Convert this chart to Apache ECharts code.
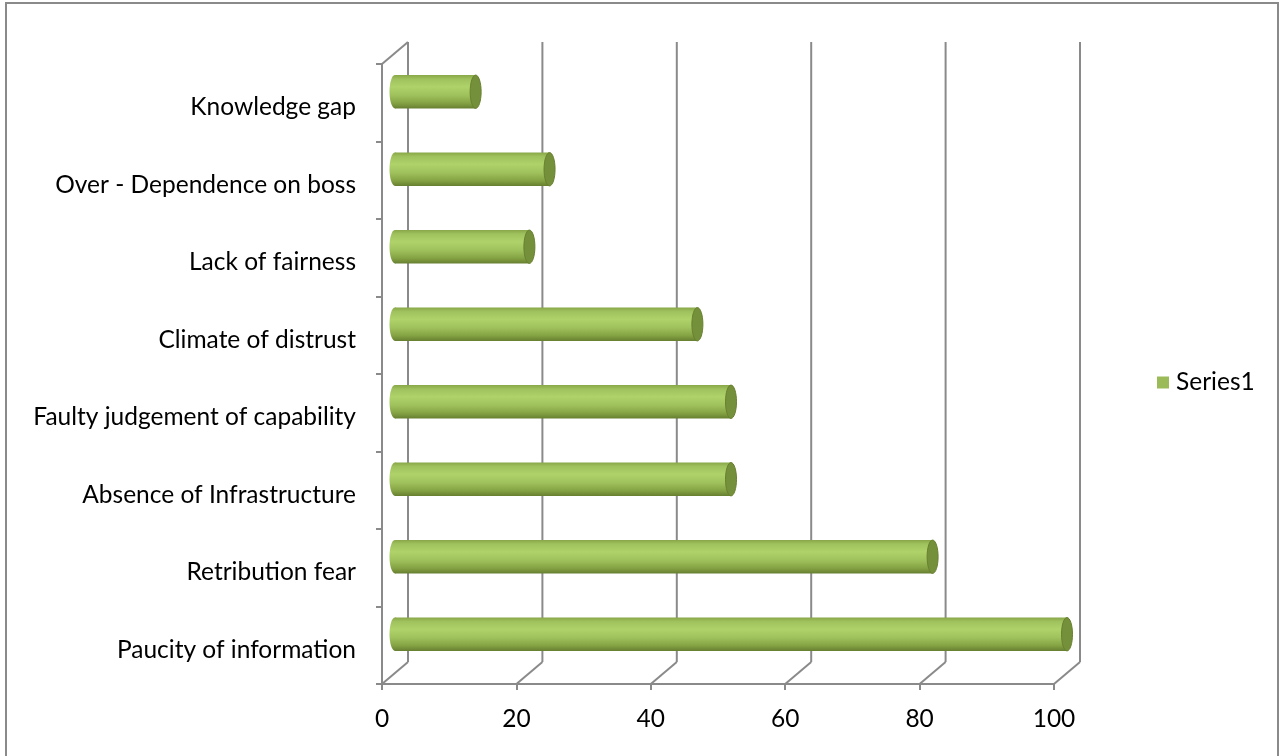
<!DOCTYPE html>
<html>
<head>
<meta charset="utf-8">
<script src="https://cdn.jsdelivr.net/npm/echarts@6/dist/echarts.min.js"></script>
<style>
  html, body { margin: 0; padding: 0; background: #ffffff; }
  #chart { width: 1285px; height: 756px; }
</style>
</head>
<body>
<div id="chart"></div>
<script>
// Categories listed bottom to top, with the matching values
const categories = [
  'Paucity of information',
  'Retribution fear',
  'Absence of Infrastructure',
  'Faulty judgement of capability',
  'Climate of distrust',
  'Lack of fairness',
  'Over - Dependence on boss',
  'Knowledge gap'
];
const values = [100, 80, 50, 50, 45, 20, 23, 12];
const xTicks = [0, 20, 40, 60, 80, 100];
const seriesName = 'Series1';

// Depth of the pseudo-3D box (back wall offset from the front plane)
const DX = 26, DY = -22;
const FRAME = '#8a8a8a';
const FONT = 'Lato, "Open Sans", sans-serif';
const FS = 24.5;

const chart = echarts.init(document.getElementById('chart'), null, { renderer: 'canvas' });

// Back wall gridlines, floor diagonals and the top edge of the side wall
function renderFrame(params, api) {
  const cs = params.coordSys;
  const top = cs.y, bottom = cs.y + cs.height;
  const children = [];
  const ls = { stroke: FRAME, lineWidth: 2 };
  xTicks.forEach(t => {
    const fx = api.coord([t, 0])[0];
    children.push({ type: 'line', shape: { x1: fx + DX, y1: top + DY, x2: fx + DX, y2: bottom + DY }, style: ls });
    children.push({ type: 'line', shape: { x1: fx, y1: bottom, x2: fx + DX, y2: bottom + DY }, style: ls });
  });
  const lx = api.coord([xTicks[0], 0])[0];
  children.push({ type: 'line', shape: { x1: lx, y1: top, x2: lx + DX, y2: top + DY }, style: ls });
  return { type: 'group', children: children, silent: true };
}

const bodyGradient = new echarts.graphic.LinearGradient(0, 0, 0, 1, [
  { offset: 0.00, color: '#89a748' },
  { offset: 0.12, color: '#a0c25e' },
  { offset: 0.35, color: '#afd26a' },
  { offset: 0.60, color: '#a0c25d' },
  { offset: 0.85, color: '#83a142' },
  { offset: 1.00, color: '#677f31' }
]);

// Cylinder bars sitting half-way into the box depth
function renderBar(params, api) {
  const idx = params.dataIndex;
  const v = api.value(0);
  const end = api.coord([v, idx]);
  const start = api.coord([0, idx]);
  const band = api.size([0, 1])[1];
  const h = band * 0.43;
  const cy = end[1] + DY / 2;
  const x0 = start[0] + DX / 2;
  const x1 = end[0] + DX / 2;
  const rx = 5.5;
  return {
    type: 'group',
    children: [
      { type: 'ellipse', shape: { cx: x0, cy: cy, rx: rx, ry: h / 2 },
        style: { fill: bodyGradient } },
      { type: 'rect', shape: { x: x0, y: cy - h / 2, width: x1 - x0, height: h },
        style: { fill: bodyGradient } },
      { type: 'ellipse', shape: { cx: x1, cy: cy, rx: rx, ry: h / 2 },
        style: { fill: '#75903b', stroke: '#68802f', lineWidth: 1 } }
    ]
  };
}

chart.setOption({
  animation: false,
  backgroundColor: '#ffffff',
  textStyle: { fontFamily: FONT },
  graphic: [{
    type: 'rect', silent: true,
    shape: { x: 6, y: 3, width: 1272, height: 760 },
    style: { fill: 'none', stroke: '#8a8a8a', lineWidth: 2 }
  }],
  legend: {
    data: [seriesName],
    left: 1152, top: 365,
    icon: 'rect', itemWidth: 12, itemHeight: 12, itemGap: 6,
    textStyle: { fontFamily: FONT, fontSize: FS, color: '#000', padding: [0, 0, 0, 2] }
  },
  grid: { left: 382, top: 64, width: 672, height: 620, containLabel: false },
  xAxis: {
    type: 'value', min: 0, max: 100, interval: 20,
    axisLine: { show: true, lineStyle: { color: FRAME, width: 2 } },
    axisTick: { show: true, length: 6, lineStyle: { color: FRAME, width: 2 } },
    splitLine: { show: false },
    axisLabel: { color: '#000', fontSize: FS, fontFamily: FONT, margin: 23 }
  },
  yAxis: {
    type: 'category', data: categories,
    axisLine: { show: true, lineStyle: { color: FRAME, width: 2 } },
    axisTick: { show: true, length: 6, lineStyle: { color: FRAME, width: 2 } },
    splitLine: { show: false },
    axisLabel: { color: '#000', fontSize: FS, fontFamily: FONT, margin: 26,
                 verticalAlign: 'top', lineHeight: 9 }
  },
  series: [
    {
      type: 'custom', name: 'frame', renderItem: renderFrame,
      data: [[0, 0]], silent: true, z: 1
    },
    {
      type: 'custom', name: seriesName, renderItem: renderBar,
      itemStyle: { color: '#9bbb59' },
      encode: { x: 0, y: 1 },
      data: values.map((v, i) => [v, i]), z: 2
    }
  ]
});
</script>
</body>
</html>
